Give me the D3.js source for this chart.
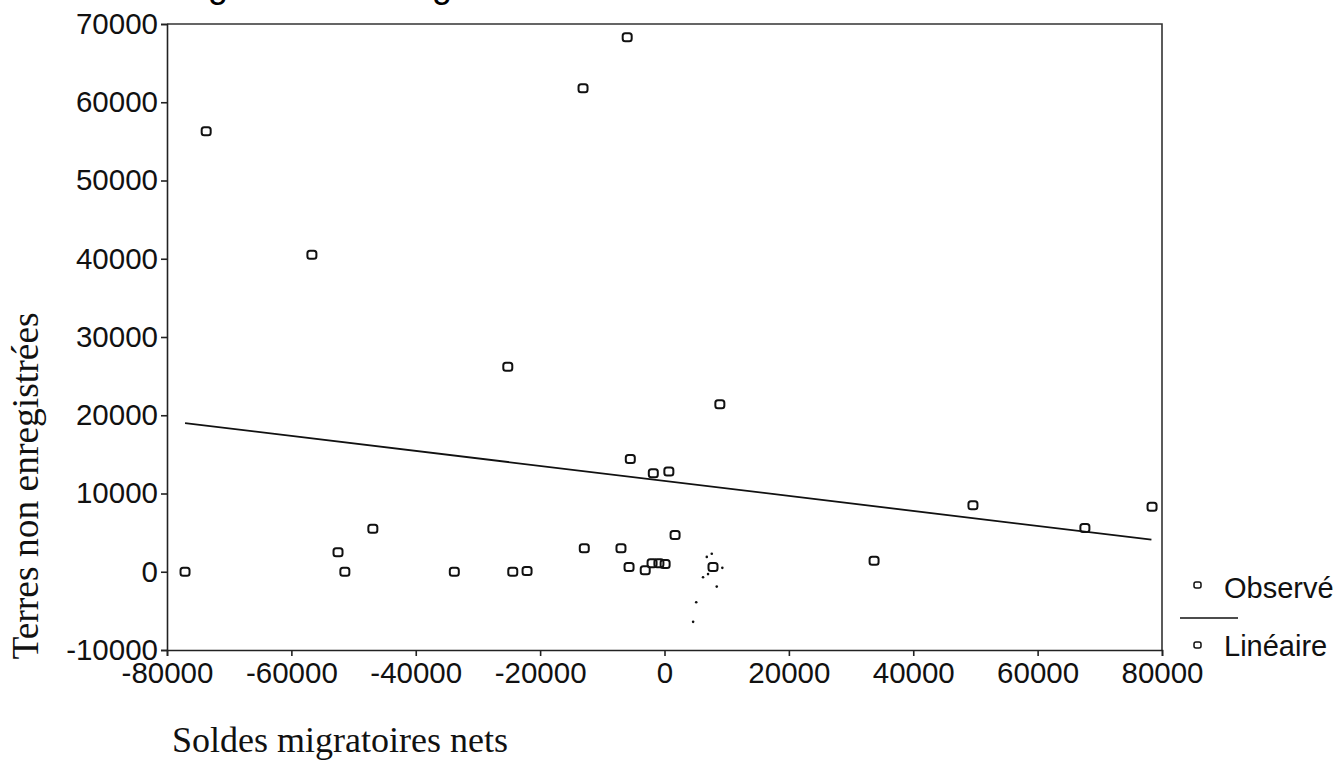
<!DOCTYPE html>
<html>
<head>
<meta charset="utf-8">
<script src="https://cdn.jsdelivr.net/npm/d3@7"></script>
<style>
  body { margin: 0; background: #fff; }
  .tick text { font-family: "Liberation Sans", Arial, sans-serif; font-size: 29.5px; fill: #111; }
  .titre { font-family: "Liberation Serif", "Times New Roman", serif; font-size: 36px; fill: #111; }
</style>
</head>
<body>
<div class="visHolder"></div>
<script>
const width = 1341,
  height = 763;

// bornes du cadre
const cadreGauche = 167,
  cadreDroite = 1162,
  cadreHaut = 24,
  cadreBas = 650;

// valeurs observées (solde migratoire net, terres non enregistrées)
const soldes = [
  -77100, -73700, -56700, -52500, -51400, -46900, -33800, -25200, -24400,
  -22100, -13100, -12900, -6000, -7000, -5500, -5700, -3100, -2000, -900,
  100, 1700, 7800, -1800, 700, 8900, 33700, 49600, 67600, 78400,
];
const terres = [
  0, 56300, 40500, 2500, 0, 5500, 0, 26200, 0, 100, 61800, 3000, 68300,
  3000, 14400, 600, 200, 1100, 1100, 1000, 4700, 600, 12600, 12800, 21400,
  1400, 8500, 5600, 8300,
];

// petits points isolés près de l'origine
const soldesPetits = [6800, 7600, 9300, 6200, 7000, 8400, 5100, 4600];
const terresPetits = [1900, 2300, 500, -700, -300, -1900, -3900, -6400];

// droite d'ajustement linéaire (extrémités)
const ligneX = [-77100, 78300];
const ligneY = [19000, 4100];

const xTicks = [-80000, -60000, -40000, -20000, 0, 20000, 40000, 60000, 80000];
const yTicks = [-10000, 0, 10000, 20000, 30000, 40000, 50000, 60000, 70000];

const legende = ["Observé", "Linéaire"];

const svg = d3
  .select(".visHolder")
  .append("svg")
  .attr("width", width)
  .attr("height", height);

const xScale = d3.scaleLinear().domain([-80000, 80000]).range([cadreGauche, cadreDroite]);
const yScale = d3.scaleLinear().domain([-10000, 70000]).range([cadreBas, cadreHaut]);

// titre coupé en haut de l'image
svg
  .append("text")
  .attr("x", 154)
  .attr("y", -3)
  .style("font-family", "Liberation Sans, Arial, sans-serif")
  .style("font-size", "36px")
  .text("Diagramme de régression");

// cadre haut et droite
svg
  .append("path")
  .attr("d", `M${cadreGauche},${cadreHaut}H${cadreDroite}V${cadreBas}`)
  .attr("fill", "none")
  .attr("stroke", "#333")
  .attr("stroke-width", 1.6);

// tirets simples comme sur l'original
const fmt = (d) => String(d);

const yAxis = d3
  .axisLeft(yScale)
  .tickValues(yTicks)
  .tickSize(6)
  .tickPadding(3)
  .tickFormat(fmt);
const xAxis = d3
  .axisBottom(xScale)
  .tickValues(xTicks)
  .tickSize(6)
  .tickPadding(6)
  .tickFormat(fmt);

svg
  .append("g")
  .attr("transform", "translate(" + cadreGauche + ",0)")
  .call(yAxis)
  .call((g) => g.selectAll("path, line").attr("stroke", "#222").attr("stroke-width", 1.6));

svg
  .append("g")
  .attr("transform", "translate(0," + cadreBas + ")")
  .call(xAxis)
  .call((g) => g.selectAll("path, line").attr("stroke", "#222").attr("stroke-width", 1.6));

svg.selectAll(".tick text").attr("font-size", null).attr("font-family", null);

// droite linéaire
svg
  .append("line")
  .attr("x1", xScale(ligneX[0]))
  .attr("y1", yScale(ligneY[0]))
  .attr("x2", xScale(ligneX[1]))
  .attr("y2", yScale(ligneY[1]))
  .attr("stroke", "#111")
  .attr("stroke-width", 1.8);

// points observés
svg
  .selectAll(".point")
  .data(soldes)
  .enter()
  .append("rect")
  .attr("class", "point")
  .attr("x", (d) => xScale(d) - 4.5)
  .attr("y", (d, i) => yScale(terres[i]) - 4)
  .attr("width", 9)
  .attr("height", 8)
  .attr("rx", 2.5)
  .attr("fill", "none")
  .attr("stroke", "#111")
  .attr("stroke-width", 2);

svg
  .selectAll(".petit")
  .data(soldesPetits)
  .enter()
  .append("circle")
  .attr("class", "petit")
  .attr("cx", (d) => xScale(d))
  .attr("cy", (d, i) => yScale(terresPetits[i]))
  .attr("r", 1.3)
  .attr("fill", "#111");

// titres des axes
svg
  .append("text")
  .attr("class", "titre")
  .attr("transform", "translate(38,486) rotate(-90)")
  .attr("text-anchor", "middle")
  .style("font-size", "37.5px")
  .text("Terres non enregistrées");

svg
  .append("text")
  .attr("class", "titre")
  .attr("x", 172)
  .attr("y", 752)
  .text("Soldes migratoires nets");

// légende
const leg = svg.append("g");

leg
  .selectAll(".legRect")
  .data(legende)
  .enter()
  .append("rect")
  .attr("x", 1194)
  .attr("y", (d, i) => 582 + i * 60)
  .attr("width", 7)
  .attr("height", 6)
  .attr("rx", 2)
  .attr("fill", "none")
  .attr("stroke", "#111")
  .attr("stroke-width", 1.5);

leg
  .append("line")
  .attr("x1", 1180)
  .attr("x2", 1238)
  .attr("y1", 618)
  .attr("y2", 618)
  .attr("stroke", "#111")
  .attr("stroke-width", 1.6);

leg
  .selectAll(".legText")
  .data(legende)
  .enter()
  .append("text")
  .attr("x", 1224)
  .attr("y", (d, i) => 598 + i * 58)
  .style("font-family", "Liberation Sans, Arial, sans-serif")
  .style("font-size", "29px")
  .style("fill", "#111")
  .text((d) => d);
</script>
</body>
</html>
